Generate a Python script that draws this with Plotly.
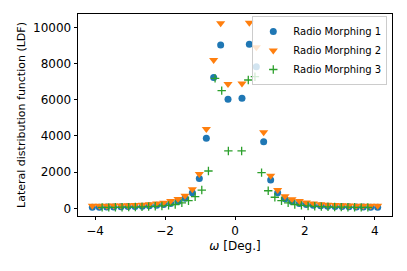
import plotly.graph_objects as go

# x positions (deg) for Radio Morphing 1 & 2
omega_12 = [-4.08, -3.88, -3.67, -3.47, -3.26, -3.06, -2.86, -2.65, -2.45, -2.24,
            -2.04, -1.84, -1.63, -1.43, -1.22, -1.02, -0.82, -0.61, -0.41, -0.20,
            0.20, 0.41, 0.61, 0.82, 1.02, 1.22, 1.43, 1.63, 1.84, 2.04,
            2.24, 2.45, 2.65, 2.86, 3.06, 3.26, 3.47, 3.67, 3.88, 4.08]
# x positions (deg) for Radio Morphing 3
omega_3 = [-3.80, -3.61, -3.42, -3.23, -3.04, -2.85, -2.66, -2.47, -2.28, -2.09,
           -1.90, -1.71, -1.52, -1.33, -1.14, -0.95, -0.76, -0.57, -0.38, -0.19,
           0.19, 0.38, 0.57, 0.76, 0.95, 1.14, 1.33, 1.52, 1.71, 1.90,
           2.09, 2.28, 2.47, 2.66, 2.85, 3.04, 3.23, 3.42, 3.61, 3.80]

ldf_rm1 = [60, 65, 70, 75, 85, 95, 105, 120, 140, 170,
           210, 270, 370, 550, 860, 1640, 3870, 7220, 9020, 6020,
           6080, 9060, 7820, 3680, 1560, 860, 530, 370, 270, 210,
           170, 140, 120, 105, 95, 85, 75, 70, 65, 60]
ldf_rm2 = [140, 140, 145, 150, 160, 170, 180, 200, 230, 260,
           310, 400, 510, 700, 1050, 1900, 4380, 8190, 10220, 6870,
           6900, 10250, 8900, 4200, 1800, 1010, 660, 500, 400, 320,
           270, 230, 200, 180, 165, 155, 145, 140, 140, 140]
ldf_rm3 = [50, 50, 55, 60, 65, 70, 80, 95, 110, 130,
           160, 210, 300, 420, 640, 1010, 2060, 7180, 6500, 3170,
           3170, 7090, 7270, 1970, 970, 610, 420, 300, 210, 160,
           130, 110, 95, 80, 70, 65, 60, 55, 50, 50]

series_names = ["Radio Morphing 1", "Radio Morphing 2", "Radio Morphing 3"]
x_ticks = [-4, -2, 0, 2, 4]
y_ticks = [0, 2000, 4000, 6000, 8000, 10000]
y_tick_labels = ["0", "2000", "4000", "6000", "8000", "10000"]

fig = go.Figure()
fig.add_trace(go.Scatter(x=omega_12, y=ldf_rm1, mode="markers", name=series_names[0],
                         marker=dict(symbol="circle", size=7, color="#1f77b4")))
fig.add_trace(go.Scatter(x=omega_12, y=ldf_rm2, mode="markers", name=series_names[1],
                         marker=dict(symbol="triangle-down", size=8, color="#ff7f0e")))
fig.add_trace(go.Scatter(x=omega_3, y=ldf_rm3, mode="markers", name=series_names[2],
                         marker=dict(symbol="cross-thin", size=6, color="#2ca02c",
                                     line=dict(color="#2ca02c", width=1.3))))

tick_font = dict(family="DejaVu Sans", size=12, color="black")
legend_font = dict(family="DejaVu Sans", size=10, color="black")
fig.update_layout(
    width=407, height=271,
    margin=dict(l=78, r=15, t=14, b=55, pad=0, autoexpand=False),
    paper_bgcolor="white", plot_bgcolor="white",
    font=tick_font,
    showlegend=True,
    legend=dict(x=0.985, y=0.99, xanchor="right", yanchor="top",
                bgcolor="rgba(255,255,255,0.8)", bordercolor="#cccccc", borderwidth=1,
                font=legend_font, itemsizing="trace", tracegroupgap=0),
)
fig.update_xaxes(range=[-4.49, 4.49], tickvals=x_ticks, ticks="outside", ticklen=3.5,
                 tickwidth=0.8, tickcolor="black", showline=True, linecolor="black",
                 linewidth=0.8, mirror=True, showgrid=False, zeroline=False,
                 tickfont=tick_font, automargin=False,
                 title=dict(text="<i>ω</i> [Deg.]",
                            font=dict(family="DejaVu Sans", size=12, color="black"),
                            standoff=4))
fig.update_yaxes(range=[-425, 10735], tickvals=y_ticks, ticktext=y_tick_labels,
                 ticks="outside", ticklen=3.5,
                 tickwidth=0.8, tickcolor="black", showline=True, linecolor="black",
                 linewidth=0.8, mirror=True, showgrid=False, zeroline=False,
                 tickfont=tick_font, automargin=False,
                 title=dict(text="Lateral distribution function (LDF)",
                            font=dict(family="DejaVu Sans", size=11, color="black"),
                            standoff=5))

fig.write_html("out.html",
               config={"displayModeBar": False},
               post_script="document.body.style.margin='0';document.body.style.overflow='hidden';")
